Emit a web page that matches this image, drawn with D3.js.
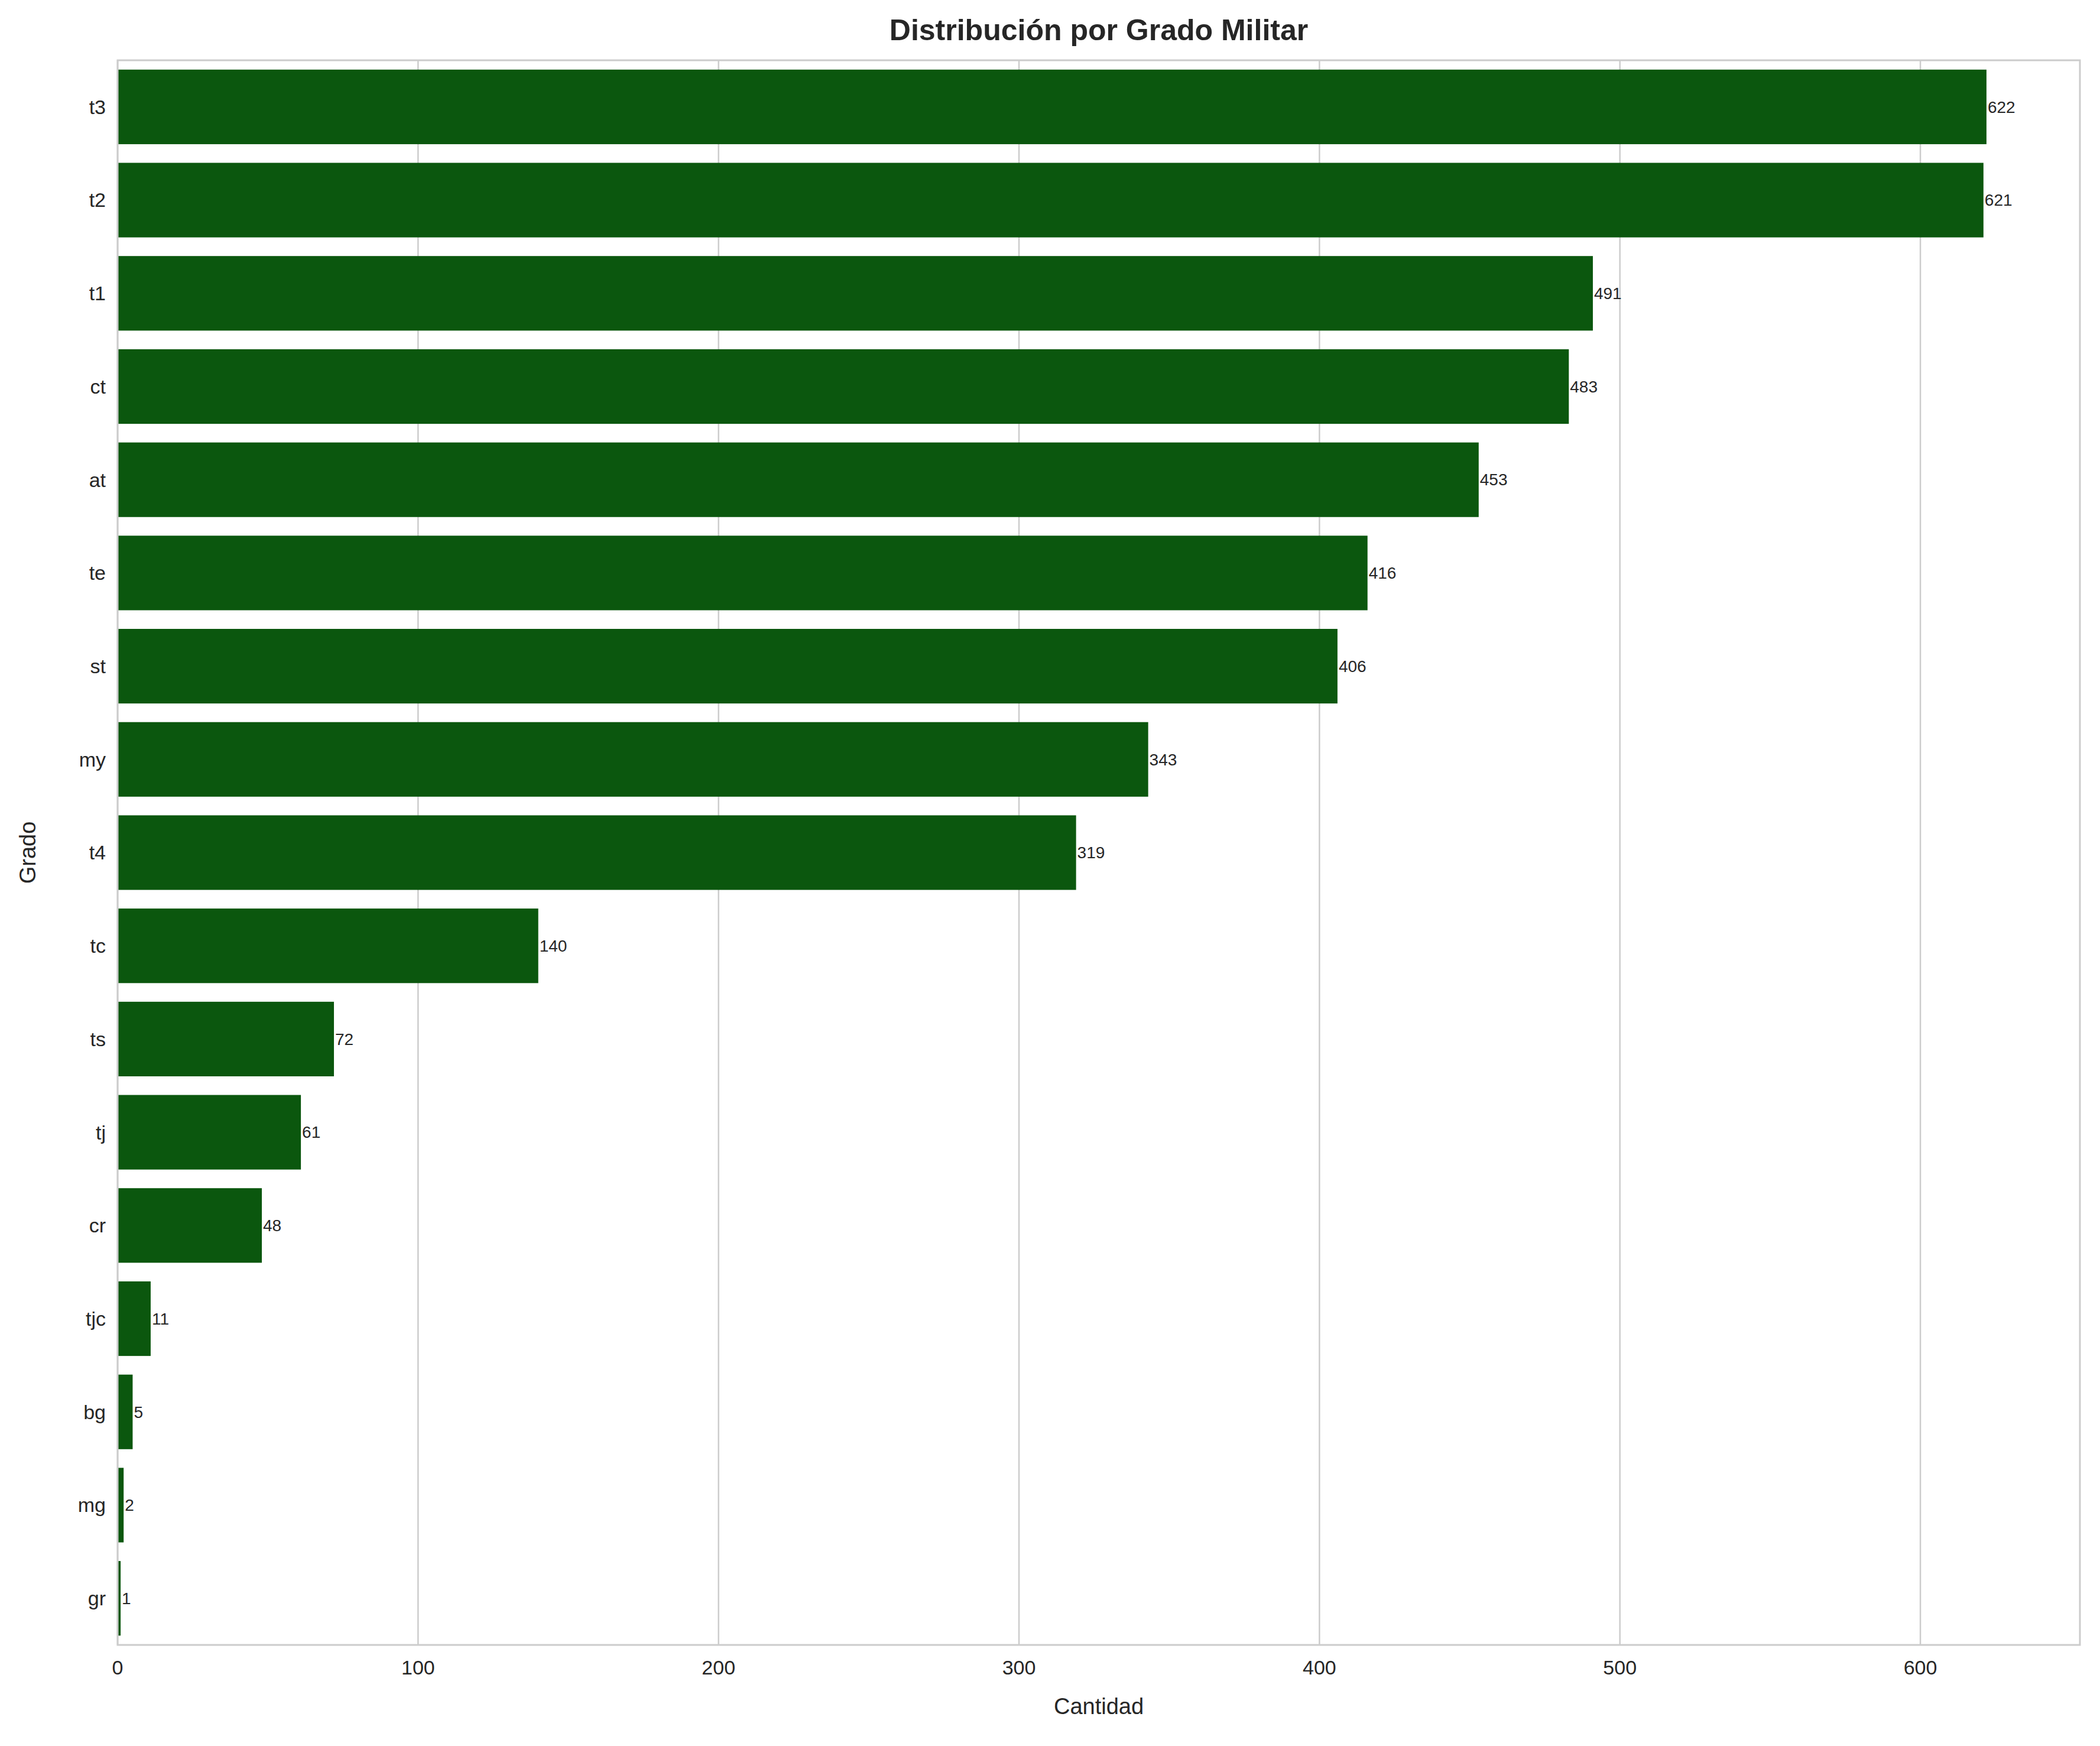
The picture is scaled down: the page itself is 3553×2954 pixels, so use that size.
<!DOCTYPE html>
<html><head><meta charset="utf-8">
<script src="https://cdn.jsdelivr.net/npm/d3@7"></script>
<style>body{margin:0;background:#fff}</style></head>
<body><svg id="c" width="3553" height="2954"></svg>
<script>
const categories=["t3","t2","t1","ct","at","te","st","my","t4","tc","ts","tj","cr","tjc","bg","mg","gr"];
const values=[622,621,491,483,453,416,406,343,319,140,72,61,48,11,5,2,1];
const xTicks=[0,100,200,300,400,500,600];
const svg=d3.select("#c");
const L=199,R=3519,T=102,B=2783;
const F="Arial, 'Liberation Sans', sans-serif";
const x=d3.scaleLinear().domain([0,622*1.05]).range([L,R]);
const y=d3.scaleBand().domain(categories).range([T,B]).padding(0.2).paddingOuter(0.1);
const g=svg.append("g");
xTicks.forEach(t=>g.append("line").attr("x1",x(t)).attr("x2",x(t)).attr("y1",T).attr("y2",B).attr("stroke","#cccccc").attr("stroke-width",2.5));
svg.selectAll("rect.b").data(values).enter().append("rect").attr("x",L).attr("y",(d,i)=>y(categories[i])).attr("width",d=>x(d)-L).attr("height",y.bandwidth()).attr("fill","#0b570e");
svg.selectAll("text.v").data(values).enter().append("text").attr("x",d=>x(d)+2).attr("y",(d,i)=>y(categories[i])+y.bandwidth()/2).attr("dy","0.35em").attr("font-family",F).attr("font-size",28).attr("fill","#262626").text(d=>d);
svg.append("rect").attr("x",L).attr("y",T).attr("width",R-L).attr("height",B-T).attr("fill","none").attr("stroke","#cccccc").attr("stroke-width",3);
xTicks.forEach(t=>svg.append("text").attr("x",x(t)).attr("y",B+50).attr("text-anchor","middle").attr("font-family",F).attr("font-size",34).attr("fill","#262626").text(t));
categories.forEach(c=>svg.append("text").attr("x",L-20).attr("y",y(c)+y.bandwidth()/2).attr("dy","0.35em").attr("text-anchor","end").attr("font-family",F).attr("font-size",34).attr("fill","#262626").text(c));
svg.append("text").attr("x",(L+R)/2).attr("y",B+117).attr("text-anchor","middle").attr("font-family",F).attr("font-size",38).attr("fill","#262626").text("Cantidad");
svg.append("text").attr("transform",`translate(60,${(T+B)/2}) rotate(-90)`).attr("text-anchor","middle").attr("font-family",F).attr("font-size",38).attr("fill","#262626").text("Grado");
svg.append("text").attr("x",(L+R)/2).attr("y",68).attr("text-anchor","middle").attr("font-family",F).attr("font-size",50).attr("font-weight","bold").attr("fill","#262626").text("Distribución por Grado Militar");
</script></body></html>
